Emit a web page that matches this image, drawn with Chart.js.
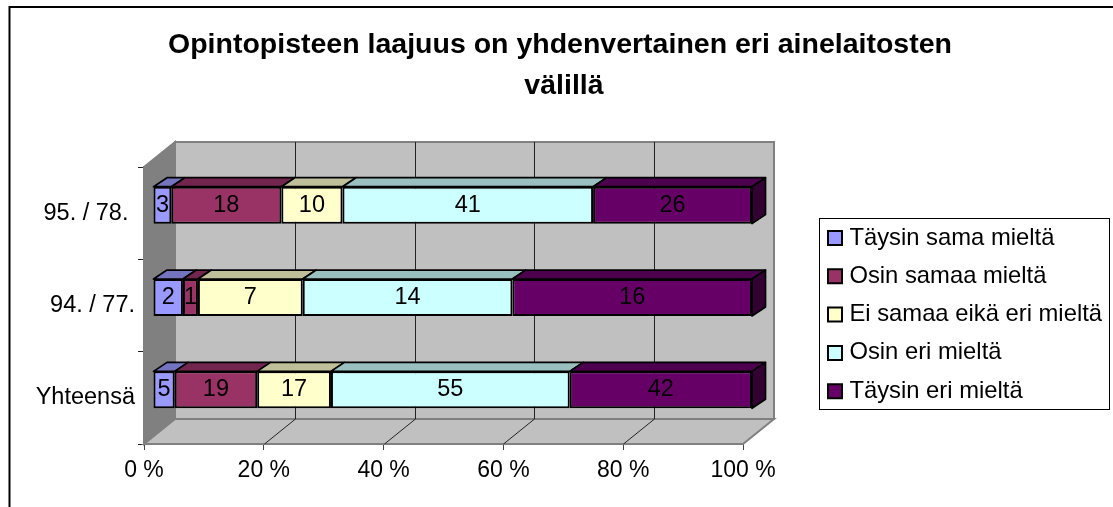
<!DOCTYPE html>
<html>
<head>
<meta charset="utf-8">
<style>
  html, body { margin: 0; padding: 0; background: #fff; overflow: hidden; }
  canvas { display: block; }
</style>
<script src="https://cdn.jsdelivr.net/npm/chart.js@4"></script>
</head>
<body>
<canvas id="surveyChart" width="1113" height="507"></canvas>
<script>
const categories = ['95. / 78. ', '94. / 77.', 'Yhteensä'];
const seriesNames = ['Täysin sama mieltä', 'Osin samaa mieltä', 'Ei samaa eikä eri mieltä', 'Osin eri mieltä', 'Täysin eri mieltä'];
const taysinSama = [3, 2, 5];
const osinSamaa = [18, 1, 19];
const eiSamaaEiEri = [10, 7, 17];
const osinEri = [41, 14, 55];
const taysinEri = [26, 16, 42];
const titleLines = ['Opintopisteen laajuus on yhdenvertainen eri ainelaitosten', ' välillä'];
const counts = [taysinSama, osinSamaa, eiSamaaEiEri, osinEri, taysinEri];

const frontColors = ['#9999FF', '#993366', '#FFFFCC', '#CCFFFF', '#660066'];
const topColors = ['#7373BF', '#73264D', '#BFBF99', '#99BFBF', '#4D004D'];
const sideColor = '#330033';
const fontFamily = "'Liberation Sans', Arial, sans-serif";

// 100 % stacked, so each count becomes its share of the row total
const rowTotals = categories.map((_, i) => counts.reduce((sum, s) => sum + s[i], 0));
const datasets = counts.map((values, s) => ({
  label: seriesNames[s],
  data: values.map((v, i) => v / rowTotals[i] * 100),
  backgroundColor: frontColors[s],
  borderColor: '#000',
  borderWidth: 2,
  borderSkipped: false,
  categoryPercentage: 0.4,
  barPercentage: 1
}));

const wallDepth = { x: 31, y: -25 };
const barShift = { x: 9, y: -8 };
const barDepth = { x: 13.5, y: -9 };

function face(ctx, points, fill) {
  ctx.beginPath();
  points.forEach((p, i) => (i ? ctx.lineTo(p[0], p[1]) : ctx.moveTo(p[0], p[1])));
  ctx.closePath();
  ctx.fillStyle = fill;
  ctx.fill();
  ctx.stroke();
}

const box3d = {
  id: 'box3d',
  beforeDraw(chart) {
    const { ctx } = chart;
    ctx.save();
    ctx.strokeStyle = '#000';
    ctx.lineWidth = 2;
    ctx.beginPath();
    ctx.moveTo(9.5, 507);
    ctx.lineTo(9.5, 7);
    ctx.lineTo(1113, 7);
    ctx.stroke();
    // legend frame
    ctx.lineWidth = 1;
    ctx.strokeRect(819.5, 218.5, 290, 191);
    ctx.restore();
  },
  beforeDatasetsDraw(chart) {
    const { ctx, chartArea: a, scales } = chart;
    const dx = wallDepth.x, dy = wallDepth.y;
    ctx.save();
    ctx.strokeStyle = '#808080';
    ctx.lineWidth = 2;
    face(ctx, [[a.left, a.top], [a.left + dx, a.top + dy], [a.left + dx, a.bottom + dy], [a.left, a.bottom]], '#808080');
    face(ctx, [[a.left + dx, a.top + dy], [a.right + dx, a.top + dy], [a.right + dx, a.bottom + dy], [a.left + dx, a.bottom + dy]], '#C0C0C0');
    face(ctx, [[a.left, a.bottom], [a.left + dx, a.bottom + dy], [a.right + dx, a.bottom + dy], [a.right, a.bottom]], '#C0C0C0');
    ctx.strokeStyle = '#222';
    ctx.lineWidth = 1;
    scales.x.ticks.forEach(t => {
      if (t.value === 0 || t.value === 100) return;
      const x = Math.round(scales.x.getPixelForValue(t.value)) + 0.5;
      ctx.beginPath();
      ctx.moveTo(x, a.bottom);
      ctx.lineTo(x + dx, a.bottom + dy);
      ctx.lineTo(x + dx, a.top + dy);
      ctx.stroke();
    });
    ctx.restore();
    // the bars stand a little behind the front plane
    ctx.save();
    ctx.translate(barShift.x, barShift.y);
  },
  afterDatasetsDraw(chart) {
    const { ctx } = chart;
    const dx = barDepth.x, dy = barDepth.y;
    ctx.strokeStyle = '#000';
    ctx.lineWidth = 1.7;
    ctx.lineJoin = 'round';
    chart.data.datasets.forEach((ds, s) => {
      chart.getDatasetMeta(s).data.forEach(bar => {
        const { x, y, base, height } = bar.getProps(['x', 'y', 'base', 'height'], true);
        const top = y - height / 2, bottom = y + height / 2;
        face(ctx, [[base, top], [base + dx, top + dy], [x + dx, top + dy], [x, top]], topColors[s]);
        if (s === chart.data.datasets.length - 1) {
          face(ctx, [[x, top], [x + dx, top + dy], [x + dx, bottom + dy], [x, bottom]], sideColor);
        }
      });
    });
    ctx.fillStyle = '#000';
    ctx.font = '23.5px ' + fontFamily;
    ctx.textAlign = 'center';
    ctx.textBaseline = 'middle';
    chart.data.datasets.forEach((ds, s) => {
      chart.getDatasetMeta(s).data.forEach((bar, i) => {
        const { x, y, base } = bar.getProps(['x', 'y', 'base'], true);
        ctx.fillText(counts[s][i], (x + base) / 2, y);
      });
    });
    ctx.restore();
  },
  afterLayout(chart) {
    // title and legend sit where Excel put them, not where the layout would
    const t = chart.titleBlock;
    t.left = 0;
    t.right = 1120;
    const l = chart.legend;
    l.left = 818;
    l.top = 211.6;
    l.right = l.left + 290;
    l.bottom = 500;
  }
};

new Chart(document.getElementById('surveyChart'), {
  type: 'bar',
  data: { labels: categories, datasets },
  options: {
    indexAxis: 'y',
    responsive: false,
    animation: false,
    layout: { padding: { left: 0, top: 0, right: 370, bottom: 0 } },
    scales: {
      x: {
        stacked: true,
        min: 0,
        max: 100,
        afterFit(scale) { scale.height = 63; },
        ticks: {
          stepSize: 20,
          maxRotation: 0,
          padding: 7,
          color: '#000',
          font: { family: fontFamily, size: 23 },
          callback: value => value + ' %'
        },
        grid: { drawOnChartArea: false, tickLength: 6, tickColor: '#444' },
        border: { color: '#666', width: 2 }
      },
      y: {
        stacked: true,
        afterFit(scale) { scale.width = 144; },
        ticks: {
          padding: 3,
          color: '#000',
          font: { family: fontFamily, size: 23.5 }
        },
        grid: { drawOnChartArea: false, tickLength: 6, tickColor: '#222' },
        border: { color: '#555', width: 2 }
      }
    },
    plugins: {
      tooltip: { enabled: false },
      title: {
        display: true,
        text: titleLines,
        color: '#000',
        font: { family: fontFamily, size: 28.5, weight: 'bold', lineHeight: '41px' },
        padding: { top: 25, bottom: 60 }
      },
      legend: {
        display: true,
        position: 'chartArea',
        align: 'start',
        labels: {
          usePointStyle: true,
          pointStyle: 'rect',
          boxWidth: 5,
          boxHeight: 14,
          padding: 14.5,
          color: '#000',
          font: { family: fontFamily, size: 23.8 }
        }
      }
    }
  },
  plugins: [box3d]
});
</script>
</body>
</html>
